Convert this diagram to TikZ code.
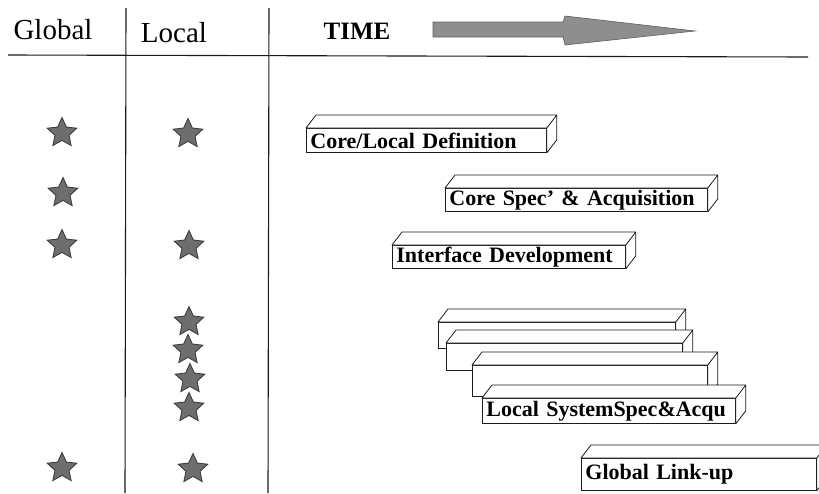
\documentclass[tikz,border=0pt]{standalone}
\usepackage{fontspec}
\setmainfont{Liberation Serif}
\usepackage{tikz}
\usetikzlibrary{shapes.geometric}
\definecolor{ink}{HTML}{1A1A1A}
\definecolor{starfill}{HTML}{6E6E6E}
\definecolor{arrowfill}{HTML}{8E8E8E}

\begin{document}
\begin{tikzpicture}[x=1pt,y=-1pt,
  head/.style={inner sep=0pt,font=\fontsize{29}{31}\selectfont},
  rule/.style={draw=ink,line width=1.1pt},
  mark5/.style={star,star points=5,star point ratio=2.1,draw=ink!85,fill=starfill,line width=0.9pt,minimum size=31pt,inner sep=0pt},
  bar/.style={draw=ink,fill=white,line width=0.8pt,anchor=north west,inner xsep=4pt,inner ysep=0pt,align=left,font=\fontsize{22}{23}\selectfont\bfseries},
  face/.style={draw=ink,fill=white,line width=0.8pt,line join=round}]
\useasboundingbox (0,0) rectangle (819,493);
% header
\node[head] (glob) at (53,30) {Global};
\node[head] (loc) at (174,33) {Local};
\node[head,font=\fontsize{25}{27}\selectfont\bfseries] (time) at (357,31) {TIME};
\coordinate (hl) at (8,55); \coordinate (hr) at (808,57);
\coordinate (v1t) at (126,8); \coordinate (v1b) at (125,493);
\coordinate (v2t) at (269,8); \coordinate (v2b) at (268,493);
\draw[rule] (hl)--(hr); \draw[rule] (v1t)--(v1b); \draw[rule] (v2t)--(v2b);
\draw[draw=ink!70,fill=arrowfill,line width=0.6pt] (433,22)--(563,22)--(565,16)--(695,31)--(565,45)--(563,37)--(433,37)--cycle;
% bars along the time axis
\foreach \n/\x/\y/\w/\h/\t in {cld/306/128/240/24/{Core/Local Definition},
    csa/445/188/262/23/{Core Spec' \& Acquisition},
    ifd/392/245/233/23/{Interface Development},
    ls1/438/322/237/26/{},ls2/446/343/236/27/{},ls3/472/365/235/31/{},
    lsa/482/398/253/25/{Local SystemSpec\&Acqu},
    glu/581/458/235/32/{Global Link-up}}{
  \node[bar,minimum height=\h pt,text width=\w pt-8pt] (\n) at (\x,\y) {\t};
  \draw[face] (\n.north west)--([shift={(10,-13)}]\n.north west)--([shift={(10,-13)}]\n.north east)
    --([shift={(10,-13)}]\n.south east)--(\n.south east)--(\n.north east)--cycle
    (\n.north east)--([shift={(10,-13)}]\n.north east);
}
% stars
\node[mark5] (g1) at (62,133) {}; \node[mark5] (l1) at (188,134) {};
\node[mark5] (g2) at (63,193) {};
\node[mark5] (g3) at (62,245) {}; \node[mark5] (l3) at (189,246) {};
\node[mark5] (l4) at (189,322) {}; \node[mark5] (l5) at (188,350) {};
\node[mark5] (l6) at (190,379) {}; \node[mark5] (l7) at (189,408) {};
\node[mark5] (g8) at (62,468) {}; \node[mark5] (l8) at (193,469) {};
\end{tikzpicture}
\end{document}
